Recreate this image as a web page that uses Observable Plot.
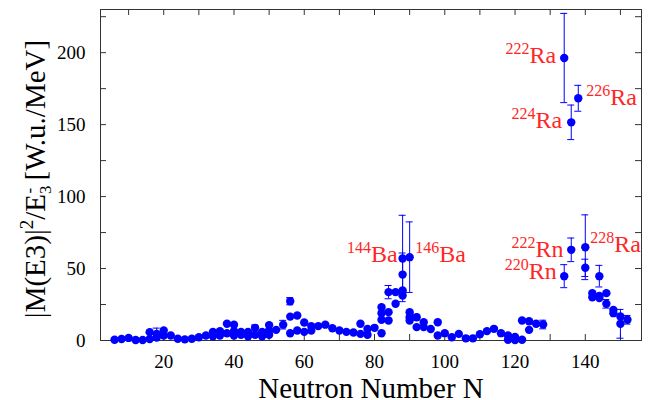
<!DOCTYPE html>
<html><head><meta charset="utf-8">
<script src="https://cdn.jsdelivr.net/npm/d3@7"></script>
<script src="https://cdn.jsdelivr.net/npm/@observablehq/plot@0.6"></script>
<style>
body{margin:0;background:#fff}
</style>
</head><body><div id="chart"></div>
<script>
// Neutron number N, |M(E3)|^2/E3- value [W.u./MeV], error (0 = none drawn)
const neutrons = [6,8,10,12,14,16,16,18,18,20,20,22,24,26,28,30,32,34,34,36,36,38,38,40,40,40,42,42,44,44,46,46,48,48,50,50,50,52,54,56,56,56,58,58,60,60,62,62,64,66,68,70,72,74,76,76,78,78,80,82,82,82,82,84,84,84,86,86,88,88,88,88,90,90,90,90,92,92,94,94,96,98,98,100,102,104,106,108,110,112,114,116,118,118,120,120,122,122,124,124,126,128,134,134,136,136,138,140,140,142,142,144,144,144,146,146,148,148,150,150,152];
const values = [0.5,1.0,1.8,0.3,0.3,1.0,5.8,4.6,2.0,7.0,3.5,3.5,1.2,0.8,1.2,2.3,3.5,6.0,3.0,6.5,3.5,11.6,5.0,11.0,6.5,3.5,6.0,4.0,6.0,3.0,8.8,4.0,6.0,3.0,10.7,7.0,4.0,7.4,11.0,27.3,16.6,5.0,17.4,7.0,12.5,6.0,10.0,7.0,10.0,11.0,8.5,7.0,6.0,5.6,11.6,4.6,8.0,4.0,8.8,23.1,19.0,14.4,5.0,33.6,19.7,13.9,33.6,25.5,57.0,45.8,34.7,31.3,57.9,19.7,16.2,13.9,16.2,9.3,12.7,9.3,8.0,12.7,3.5,5.1,2.3,4.6,1.5,1.5,4.4,6.5,8.1,5.1,3.5,0.5,2.5,0.3,0.5,13.9,13.4,7.4,11.6,11.1,44.7,196.3,63.0,151.6,168.3,64.8,50.5,32.9,30.0,44.7,31.0,29.5,32.9,25.5,21.3,19.0,16.7,11.6,14.4];
const errors = [0,0,0,0,0,0,0,4,0,0,0,0,0,0,0,0,0,0,0,0,0,0,0,0,0,0,0,0,0,0,2,0,0,0,0,0,0,0,3,2.5,0,0,0,0,0,0,0,0,0,0,0,0,0,0,0,0,0,0,0,0,0,0,0,4.6,0,0,0,0,30,15,0,0,24.5,0,0,0,2,0,0,0,0,0,0,0,0,0,0,0,0,0,0,0,0,0,0,0,0,0,0,0,0,3,8,31,8.2,12,9,22.5,6,0,0,7.5,0,0,0,3,0,0,0,10,3];

// Isotope annotations (anchored in data coordinates)
const labelMass = ["222","224","144","222","220","226","146","228"];
const labelElement = ["Ra","Ra","Ba","Rn","Rn","Ra","Ba","Ra"];
const labelN = [131.7,133.4,86.6,133.8,131.9,140.3,91.6,141.4];
const labelValue = [192.6,147.4,54.4,58.3,42.8,163.9,54.4,61.3];
const labelSide = ["end","end","end","end","end","start","start","start"];

const xTickMarks = [10,20,30,40,50,60,70,80,90,100,110,120,130,140,150];
const xTickLabels = [20,40,60,80,100,120,140];
const yTickMarks = [0,25,50,75,100,125,150,175,200,225];
const yTickLabels = [0,50,100,150,200];
const xTitle = "Neutron Number N";

const data = neutrons.map((n, i) => ({n, v: values[i], e: errors[i]}));
const errData = data.filter(d => d.e > 0);
const labels = labelMass.map((m, i) => ({t: m + labelElement[i], n: labelN[i], v: labelValue[i], side: labelSide[i]}));

const blue = "#0000ff";
const red = "#ff2626";
const frameColor = "#333";
const serif = "'Liberation Serif', serif";

const svg = Plot.plot({
  width: 649, height: 400,
  marginLeft: 100, marginRight: 8, marginTop: 9, marginBottom: 60,
  x: {domain: [2, 156]},
  y: {domain: [0, 230]},
  style: {background: "#fff", color: "#000"},
  marks: [
    Plot.tickX(xTickMarks, {x: d => d, insetTop: 325, stroke: frameColor}),
    Plot.tickX(xTickMarks, {x: d => d, insetBottom: 325, stroke: frameColor}),
    Plot.tickY(yTickMarks, {y: d => d, insetRight: 535, stroke: frameColor}),
    Plot.tickY(yTickMarks, {y: d => d, insetLeft: 535, stroke: frameColor}),
    Plot.frame({stroke: frameColor}),
    Plot.axisX(xTickLabels, {tickSize: 0, tickPadding: 14, fontSize: 19, label: null}),
    Plot.axisY(yTickLabels, {tickSize: 0, tickPadding: 15, fontSize: 19, label: null}),
    Plot.ruleX(errData, {x: "n", y1: d => d.v - d.e, y2: d => d.v + d.e, stroke: blue}),
    Plot.ruleY(errData, {y: d => d.v - d.e, x1: "n", x2: "n", insetLeft: -3.5, insetRight: -3.5, stroke: blue}),
    Plot.ruleY(errData, {y: d => d.v + d.e, x1: "n", x2: "n", insetLeft: -3.5, insetRight: -3.5, stroke: blue}),
    Plot.dot(data, {x: "n", y: "v", r: 4.2, fill: blue, stroke: "none"}),
    Plot.text(labels.filter(d => d.side === "end"), {x: "n", y: "v", text: "t", textAnchor: "end", lineAnchor: "bottom", fontSize: 24, fill: red}),
    Plot.text(labels.filter(d => d.side === "start"), {x: "n", y: "v", text: "t", textAnchor: "start", lineAnchor: "bottom", fontSize: 24, fill: red}),
    Plot.text([xTitle], {frameAnchor: "bottom", dy: 57, text: d => d, fontSize: 29, lineAnchor: "bottom"})
  ]
});
document.getElementById("chart").appendChild(svg);

// superscript mass numbers on isotope labels
d3.select(svg).selectAll("text").each(function() {
  const m = (this.textContent || "").match(/^(\d{3})([A-Z][a-z])$/);
  if (!m) return;
  const el = d3.select(this);
  el.text(null);
  el.append("tspan").attr("font-size", 16).attr("dy", -9).text(m[1]);
  el.append("tspan").attr("dy", 9).text(m[2]);
});

// y-axis title with sub/superscripts
const yt = d3.select(svg).append("text")
  .attr("transform", "translate(45,179) rotate(-90)")
  .attr("text-anchor", "middle")
  .attr("font-size", 29)
  .attr("fill", "#000");
yt.append("tspan").text("|M(E3)|");
yt.append("tspan").attr("font-size", 19).attr("dy", -12).text("2");
yt.append("tspan").attr("dy", 12).text("/E");
yt.append("tspan").attr("font-size", 17).attr("dy", 6).text("3");
yt.append("tspan").attr("font-size", 17).attr("dx", -8).attr("dy", -16).text("-");
yt.append("tspan").attr("dy", 10).text(" [W.u./MeV]");

// serif font on every text
d3.select(svg).style("font-family", serif);
d3.select(svg).selectAll("text, tspan").style("font-family", serif);
</script>
</body></html>
